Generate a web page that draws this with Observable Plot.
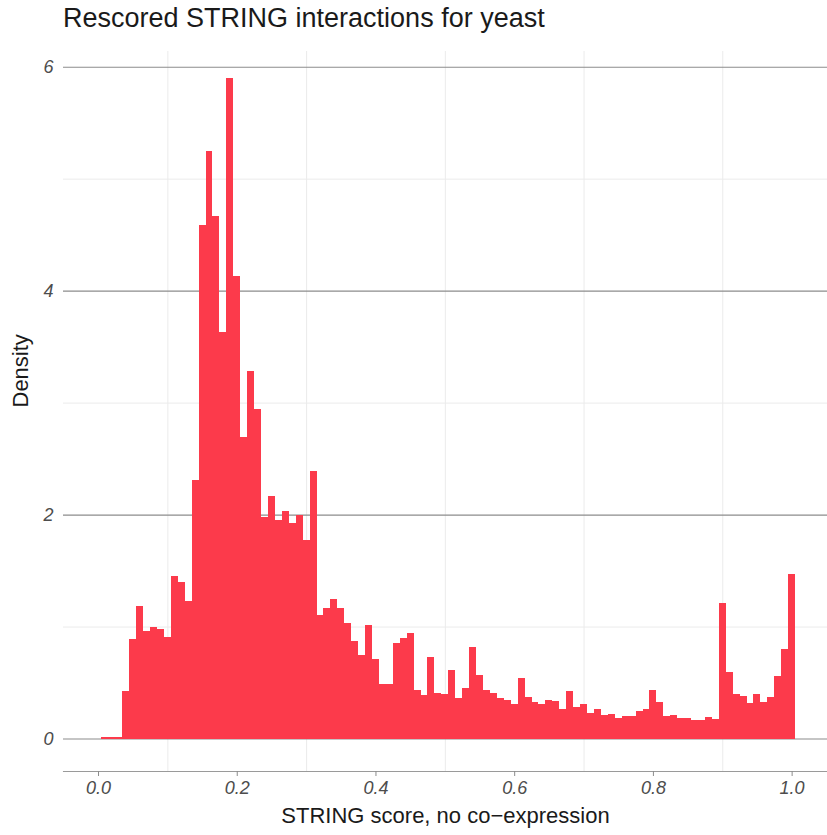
<!DOCTYPE html>
<html><head><meta charset="utf-8">
<script src="https://cdn.jsdelivr.net/npm/d3@7"></script>
<script src="https://cdn.jsdelivr.net/npm/@observablehq/plot@0.6"></script>
<style>
body{margin:0;background:#fff;}
#wrap{position:relative;width:827px;height:835px;font-family:"Liberation Sans",Arial,sans-serif;}
#title{position:absolute;left:63px;top:3px;font-size:27px;line-height:30px;color:#1a1a1a;white-space:nowrap;}
#chart{position:absolute;left:0;top:0;}
</style></head><body>
<div id="wrap"><div id="chart"></div><div id="title">Rescored STRING interactions for yeast</div></div>
<script>
// Histogram bins: width 0.01, first bin starts at 0.005 (centres 0.01 ... 1.00)
const binWidth = 0.01;
const binStart = 0.005;
const density = [
  0.01, 0.01, 0.01,
  0.42, 0.885, 1.18, 0.957, 1.0, 0.975, 0.91,
  1.45, 1.40, 1.23, 2.31, 4.59, 5.25, 4.67, 3.63, 5.90, 4.13,
  2.695, 3.28, 2.945, 1.98, 2.165, 1.95, 2.03, 1.925, 1.995, 1.775,
  2.39, 1.10, 1.163, 1.243, 1.163, 1.03, 0.868, 0.75, 1.01, 0.707,
  0.49, 0.483, 0.85, 0.894, 0.939, 0.43, 0.385, 0.725, 0.41, 0.394,
  0.608, 0.36, 0.447, 0.814, 0.5635, 0.43, 0.41, 0.358, 0.34, 0.304,
  0.537, 0.367, 0.322, 0.304, 0.34, 0.331, 0.268, 0.42, 0.286, 0.304,
  0.224, 0.268, 0.206, 0.215, 0.179, 0.197, 0.197, 0.242, 0.268, 0.43,
  0.322, 0.197, 0.206, 0.179, 0.179, 0.161, 0.161, 0.188, 0.17, 1.208,
  0.59, 0.394, 0.376, 0.313, 0.394, 0.322, 0.367, 0.555, 0.796, 1.467
];
const xTicks = [0.0, 0.2, 0.4, 0.6, 0.8, 1.0];
const xMinor = [0.1, 0.3, 0.5, 0.7, 0.9];
const yTicks = [0, 2, 4, 6];
const yMinor = [1, 3, 5];
const xLabel = "STRING score, no co\u2212expression";
const yLabel = "Density";

const bins = density.map((d, i) => ({x1: binStart + i * binWidth, x2: binStart + (i + 1) * binWidth, y: d}));

const chart = Plot.plot({
  width: 827,
  height: 835,
  marginTop: 51,
  marginBottom: 64,
  marginLeft: 63,
  marginRight: 0,
  x: {domain: [-0.0505, 1.051]},
  y: {domain: [-0.29, 6.14]},
  style: {fontFamily: "'Liberation Sans', Arial, sans-serif", background: "#fff", overflow: "visible"},
  marks: [
    Plot.ruleX(xMinor, {stroke: "#ebebeb", strokeWidth: 1}),
    Plot.ruleY(yMinor, {stroke: "#ebebeb", strokeWidth: 1}),
    Plot.ruleY(yTicks, {stroke: "#8c8c8c", strokeWidth: 1.1}),
    Plot.rectY(bins, {x1: "x1", x2: "x2", y: "y", fill: "#fc3a4b", insetLeft: 0, insetRight: 0, shapeRendering: "crispEdges"}),
    Plot.frame({anchor: "bottom", stroke: "#9a9a9a", strokeWidth: 1.1}),
    Plot.axisX({ticks: xTicks, tickFormat: d3.format(".1f"), tickSize: 5, tickPadding: 5, fontSize: 18, fontStyle: "italic", color: "#4d4d4d", stroke: "#8c8c8c", label: null}),
    Plot.axisY({ticks: yTicks, tickFormat: d3.format("d"), tickSize: 0, tickPadding: 10, fontSize: 18, fontStyle: "italic", color: "#4d4d4d", label: null}),
    Plot.text([xLabel], {frameAnchor: "bottom", dy: 51, fontSize: 22, fill: "#1a1a1a"}),
    Plot.text([yLabel], {frameAnchor: "left", dx: -43, dy: -4, rotate: -90, fontSize: 22, fill: "#1a1a1a"})
  ]
});
document.getElementById("chart").appendChild(chart);
</script>
</body></html>
